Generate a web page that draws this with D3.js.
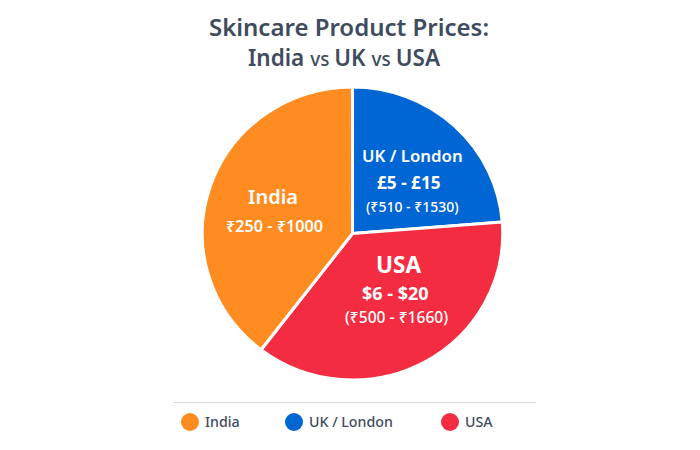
<!DOCTYPE html>
<html><head><meta charset="utf-8">
<script src="https://cdn.jsdelivr.net/npm/d3@7/dist/d3.min.js"></script>
<style>html,body{margin:0;padding:0;background:#fff}svg{display:block}text{font-family:"Noto Sans","Open Sans",sans-serif}</style>
</head><body><svg id="c" width="700" height="450"></svg>
<script>
const categories = ["UK / London","USA","India"];
const shares = [23.75,36.67,39.58];
const colors = ["#0066D4","#F42C42","#FF8C21"];
const legendOrder = ["India","UK / London","USA"];
const labelLines = [
 [["UK / London",16.8,600,362,162],["£5 - £15",17.2,700,377,189],["(₹510 - ₹1530)",14,500,366,212]],
 [["USA",22.5,700,376,273],["$6 - $20",18,700,362,300],["(₹500 - ₹1660)",15.6,500,345,323]],
 [["India",20,600,248,204],["₹250 - ₹1000",16.2,600,226,232]]
];
const svg = d3.select("#c");
const cx=352.5, cy=233.5, R=148;
svg.append("text").attr("x",349).attr("y",36).attr("text-anchor","middle").attr("font-size",24).attr("font-weight",600).attr("fill","#3F4B5E").text("Skincare Product Prices:");
const sub = svg.append("text").attr("x",344).attr("y",66).attr("text-anchor","middle").attr("fill","#3F4B5E").attr("font-size",22.5).attr("font-weight",600);
sub.append("tspan").text("India ");
sub.append("tspan").attr("font-size",19).attr("font-weight",500).text("vs ");
sub.append("tspan").text("UK ");
sub.append("tspan").attr("font-size",19).attr("font-weight",500).text("vs ");
sub.append("tspan").text("USA");
const pie = d3.pie().sort(null)(shares);
const arc = d3.arc().innerRadius(0).outerRadius(R);
svg.append("g").attr("transform",`translate(${cx},${cy}) scale(1.015,0.99)`).selectAll("path").data(pie).join("path")
 .attr("d",arc).attr("fill",(d,i)=>colors[i]).attr("stroke","#fff").attr("stroke-width",3).attr("stroke-linejoin","round");
labelLines.flat().forEach(l=>{
 svg.append("text").attr("x",l[3]).attr("y",l[4]).attr("font-size",l[1]).attr("font-weight",l[2]).attr("fill","#fff").text(l[0]);
});
svg.append("line").attr("x1",173).attr("x2",536).attr("y1",402.5).attr("y2",402.5).attr("stroke","#D8DADF").attr("stroke-width",1);
const legX = d3.scaleOrdinal().domain(legendOrder).range([190,294,450]);
legendOrder.forEach(n=>{
 const col = colors[categories.indexOf(n)];
 svg.append("circle").attr("cx",legX(n)).attr("cy",422).attr("r",9).attr("fill",col);
 svg.append("text").attr("x",legX(n)+15).attr("y",427).attr("font-size",14.2).attr("font-weight",500).attr("fill","#3F4B5E").text(n);
});
</script></body></html>
